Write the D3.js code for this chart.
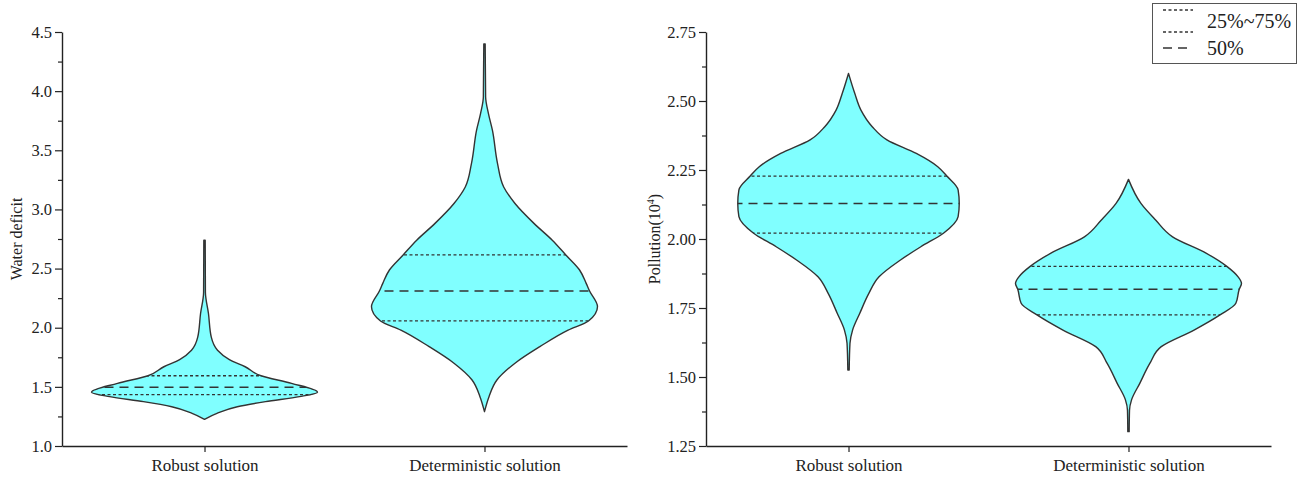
<!DOCTYPE html>
<html>
<head>
<meta charset="utf-8">
<script src="https://cdn.jsdelivr.net/npm/d3@7"></script>
<style>
  body { margin: 0; background: #fff; }
  svg { display: block; font-family: "Liberation Serif", "Times New Roman", serif; }
  svg text { font-family: "Liberation Serif", "Times New Roman", serif; }
</style>
</head>
<body>
<svg id="chart" width="1311" height="478"></svg>
<script>
// ---------------- data ----------------
const categories = ["Robust solution", "Deterministic solution"];

const waterTicks = [1.0, 1.5, 2.0, 2.5, 3.0, 3.5, 4.0, 4.5];
const pollutionTicks = [1.25, 1.50, 1.75, 2.00, 2.25, 2.50, 2.75];

// violin profiles: value and relative kernel density (max ~1)
const waterRobustValues  = [1.226, 1.276, 1.332, 1.375, 1.417, 1.455, 1.53, 1.594, 1.67, 1.73, 1.81, 1.92, 2.12, 2.30, 2.74];
const waterRobustDensity = [0, 0.11, 0.29, 0.54, 0.84, 1.00, 0.77, 0.50, 0.36, 0.22, 0.115, 0.06, 0.035, 0.008, 0.006];

const waterDetValues  = [1.29, 1.417, 1.558, 1.70, 1.84, 1.98, 2.057, 2.178, 2.31, 2.375, 2.49, 2.615, 2.74, 2.88, 3.05, 3.19, 3.39, 3.67, 3.81, 3.95, 4.40];
const waterDetDensity = [0, 0.04, 0.11, 0.27, 0.49, 0.74, 0.92, 1.00, 0.93, 0.90, 0.84, 0.72, 0.60, 0.44, 0.27, 0.17, 0.115, 0.07, 0.035, 0.01, 0.006];

const pollRobustValues  = [1.525, 1.622, 1.670, 1.731, 1.803, 1.863, 1.924, 1.972, 2.021, 2.081, 2.129, 2.178, 2.228, 2.262, 2.31, 2.359, 2.407, 2.467, 2.528, 2.600];
const pollRobustDensity = [0.006, 0.013, 0.036, 0.10, 0.18, 0.27, 0.46, 0.64, 0.84, 0.97, 0.98, 0.97, 0.87, 0.79, 0.60, 0.34, 0.21, 0.11, 0.055, 0];

const pollDetValues  = [1.302, 1.380, 1.417, 1.477, 1.550, 1.610, 1.670, 1.725, 1.767, 1.818, 1.839, 1.863, 1.901, 1.948, 2.008, 2.069, 2.129, 2.216];
const pollDetDensity = [0.006, 0.009, 0.027, 0.10, 0.19, 0.29, 0.58, 0.81, 0.95, 0.98, 1.00, 0.97, 0.87, 0.69, 0.39, 0.24, 0.11, 0];

// quartiles [25%, 50%, 75%]
const waterQuartiles = [[1.434, 1.496, 1.594], [2.057, 2.31, 2.615]];
const pollutionQuartiles = [[2.021, 2.129, 2.228], [1.725, 1.818, 1.901]];

const legendLabels = ["25%~75%", "50%"];

// ---------------- drawing ----------------
const svg = d3.select("#chart");
const FILL = "#80ffff";
const STROKE = "#333333";
const AXIS = "#222222";
const SERIF = "'Liberation Serif', 'Times New Roman', serif";

function zip(vals, dens) { return vals.map((v, i) => ({ v: v, d: dens[i] })); }

let clipId = 0;

function panel(opts) {
  const { x0, x1, yTop, yBot, domain, ticks, minorStep, fmt, title, titleX, violins, quartiles } = opts;
  const g = svg.append("g");

  const x = d3.scalePoint().domain(categories).range([x0, x1]).padding(0.509);
  const y = d3.scaleLinear().domain(domain).range([yBot, yTop]);
  const w = d3.scaleLinear().domain([0, 1]).range([0, 113]);

  violins.forEach((prof, i) => {
    const cx = x(categories[i]);
    const area = d3.area()
      .y(d => y(d.v))
      .x0(d => cx - w(d.d))
      .x1(d => cx + w(d.d))
      .curve(d3.curveMonotoneY);
    const id = "vclip" + (clipId++);
    g.append("clipPath").attr("id", id).append("path").attr("d", area(prof));
    g.append("path").attr("d", area(prof))
      .attr("fill", FILL).attr("stroke", "none");
    const q = quartiles[i];
    const lines = g.append("g").attr("clip-path", `url(#${id})`);
    [q[0], q[2]].forEach(v => {
      lines.append("line")
        .attr("x1", cx - 130).attr("x2", cx + 130)
        .attr("y1", y(v)).attr("y2", y(v))
        .attr("stroke", STROKE).attr("stroke-width", 1.3)
        .attr("stroke-dasharray", "3,2.5");
    });
    lines.append("line")
      .attr("x1", cx - 130).attr("x2", cx + 130)
      .attr("y1", y(q[1])).attr("y2", y(q[1]))
      .attr("stroke", STROKE).attr("stroke-width", 1.5)
      .attr("stroke-dasharray", "9,6");
    g.append("path").attr("d", area(prof))
      .attr("fill", "none").attr("stroke", STROKE).attr("stroke-width", 1.4)
      .attr("stroke-linejoin", "round");
  });

  const minor = d3.range(domain[0], domain[1] + 1e-9, minorStep).filter(v => !ticks.some(t => Math.abs(t - v) < 1e-9));
  const yMinor = d3.axisLeft(y).tickValues(minor).tickSize(4).tickFormat("");
  const gm = g.append("g").attr("transform", `translate(${x0},0)`).call(yMinor);
  gm.select(".domain").remove();
  gm.selectAll("line").attr("stroke", AXIS).attr("stroke-width", 1.2);

  const yAxis = d3.axisLeft(y).tickValues(ticks).tickSize(7).tickSizeOuter(0).tickPadding(3).tickFormat(fmt);
  const gy = g.append("g").attr("transform", `translate(${x0},0)`).call(yAxis);
  gy.attr("font-family", SERIF);
  gy.select(".domain").attr("stroke", AXIS).attr("stroke-width", 1.4);
  gy.selectAll("line").attr("stroke", AXIS).attr("stroke-width", 1.2);
  gy.selectAll("text").attr("font-family", SERIF).attr("font-size", 16.5).attr("fill", "#222");

  const xAxis = d3.axisBottom(x).tickSize(6).tickSizeOuter(0).tickPadding(7);
  const gx = g.append("g").attr("transform", `translate(0,${yBot})`).call(xAxis);
  gx.attr("font-family", SERIF);
  gx.select(".domain").attr("stroke", AXIS).attr("stroke-width", 1.4);
  gx.selectAll("line").attr("stroke", AXIS).attr("stroke-width", 1.2);
  gx.selectAll("text").attr("font-family", SERIF).attr("font-size", 17).attr("fill", "#222");

  const t = g.append("text")
    .attr("transform", `translate(${titleX},${(yTop + yBot) / 2}) rotate(-90)`)
    .attr("text-anchor", "middle")
    .attr("font-family", SERIF)
    .attr("font-size", 16).attr("fill", "#222");
  title(t);
}

panel({
  x0: 62, x1: 627, yTop: 32, yBot: 446,
  domain: [1.0, 4.5], ticks: waterTicks, minorStep: 0.25,
  fmt: d3.format(".1f"),
  title: t => t.text("Water deficit"),
  titleX: 22,
  violins: [zip(waterRobustValues, waterRobustDensity), zip(waterDetValues, waterDetDensity)],
  quartiles: waterQuartiles
});

panel({
  x0: 706, x1: 1271, yTop: 32, yBot: 446,
  domain: [1.25, 2.75], ticks: pollutionTicks, minorStep: 0.125,
  fmt: d3.format(".2f"),
  title: t => {
    t.append("tspan").text("Pollution(10");
    t.append("tspan").attr("font-size", 10).attr("dy", -6).text("4");
    t.append("tspan").attr("dy", 6).text(")");
  },
  titleX: 660,
  violins: [zip(pollRobustValues, pollRobustDensity), zip(pollDetValues, pollDetDensity)],
  quartiles: pollutionQuartiles
});

// legend
const lg = svg.append("g").attr("font-family", SERIF);
lg.append("rect").attr("x", 1152.5).attr("y", 3.5).attr("width", 144).attr("height", 60)
  .attr("fill", "#fff").attr("stroke", "#555").attr("stroke-width", 1);
[10, 32].forEach(yy => {
  lg.append("line").attr("x1", 1163).attr("x2", 1193).attr("y1", yy).attr("y2", yy)
    .attr("stroke", STROKE).attr("stroke-width", 1.3).attr("stroke-dasharray", "3,2.5");
});
lg.append("line").attr("x1", 1163).attr("x2", 1193).attr("y1", 48).attr("y2", 48)
  .attr("stroke", STROKE).attr("stroke-width", 1.5).attr("stroke-dasharray", "9,6");
lg.append("text").attr("x", 1207).attr("y", 28).attr("font-size", 20).attr("fill", "#222").text(legendLabels[0]);
lg.append("text").attr("x", 1207).attr("y", 55).attr("font-size", 20).attr("fill", "#222").text(legendLabels[1]);
</script>
</body>
</html>
